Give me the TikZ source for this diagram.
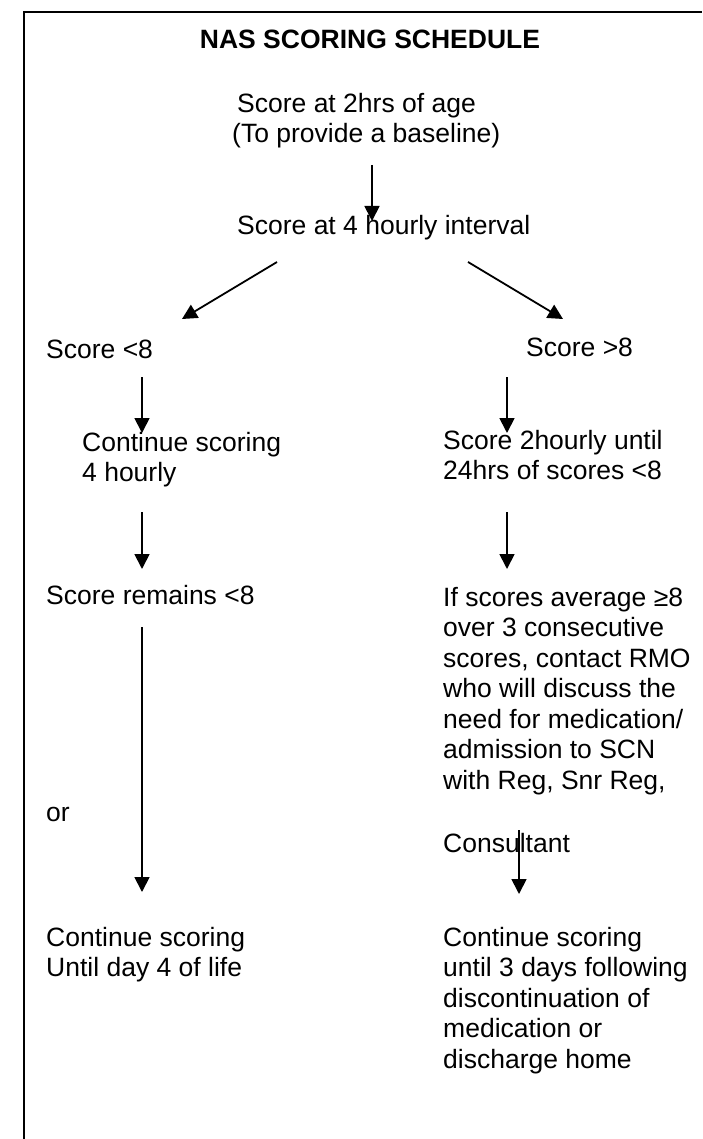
\documentclass[tikz,border=0pt]{standalone}
\usepackage{fontspec}
\setmainfont{Liberation Sans}
\usetikzlibrary{arrows.meta}

\tikzset{
	txt/.style={anchor=base west, inner sep=0pt, align=left, font=\fontsize{26.5}{30.5}\selectfont},
	flow/.style={line width=1.8pt, -{Triangle[length=15pt, width=15pt]}},
}

\begin{document}
\begin{tikzpicture}[x=1pt, y=-1pt]
		\useasboundingbox (0,0) rectangle (702,1139);
		\draw[line width=2.2pt] (24,1139) -- (24,12) -- (702,12);

		% multi-line texts sit on the baseline of their last line
		\node[txt, anchor=base, font=\fontsize{26.5}{30.5}\selectfont\bfseries] (title) at (370,49) {NAS SCORING SCHEDULE};
		\node[txt] (base) at (232,143) {\hspace*{5pt}Score at 2hrs of age\\(To provide a baseline)};
		\node[txt] (four) at (237,235) {Score at 4 hourly interval};
		\node[txt] (low) at (46,358) {Score <8};
		\node[txt] (high) at (526,356) {Score >8};
		\node[txt] (cont) at (82,481.5) {Continue scoring\\4 hourly};
		\node[txt] (two) at (443,479.5) {Score 2hourly until\\24hrs of scores <8};
		\node[txt] (remain) at (46,604) {Score remains <8};
		\node[txt] (avg) at (443,789) {If scores average ≥8\\over 3 consecutive\\scores, contact RMO\\who will discuss the\\need for medication/\\admission to SCN\\with Reg, Snr Reg,};
		\node[txt] (consult) at (443,852) {Consultant};
		\node[txt] (or) at (46,821) {or};
		\node[txt] (day4) at (46,976.5) {Continue scoring\\Until day 4 of life};
		\node[txt] (days3) at (443,1068) {Continue scoring\\until 3 days following\\discontinuation of\\medication or\\discharge home};

		% arrow ends
		\coordinate (a0) at (372,165); \coordinate (a1) at (372,221);
		\coordinate (l0) at (277,262); \coordinate (l1) at (182,319);
		\coordinate (r0) at (468,262); \coordinate (r1) at (563,319);
		\coordinate (b0) at (142,377); \coordinate (b1) at (142,433);
		\coordinate (c0) at (507,377); \coordinate (c1) at (507,433);
		\coordinate (d0) at (142,512); \coordinate (d1) at (142,569);
		\coordinate (e0) at (507,512); \coordinate (e1) at (507,569);
		\coordinate (f0) at (142,627); \coordinate (f1) at (142,892);
		\coordinate (g0) at (519,830); \coordinate (g1) at (519,894);

		\draw[flow] (a0) -- (a1);
		\draw[flow] (l0) -- (l1);
		\draw[flow] (r0) -- (r1);
		\draw[flow] (b0) -- (b1);
		\draw[flow] (c0) -- (c1);
		\draw[flow] (d0) -- (d1);
		\draw[flow] (e0) -- (e1);
		\draw[flow] (f0) -- (f1);
		\draw[flow] (g0) -- (g1);
	\end{tikzpicture}
\end{document}
